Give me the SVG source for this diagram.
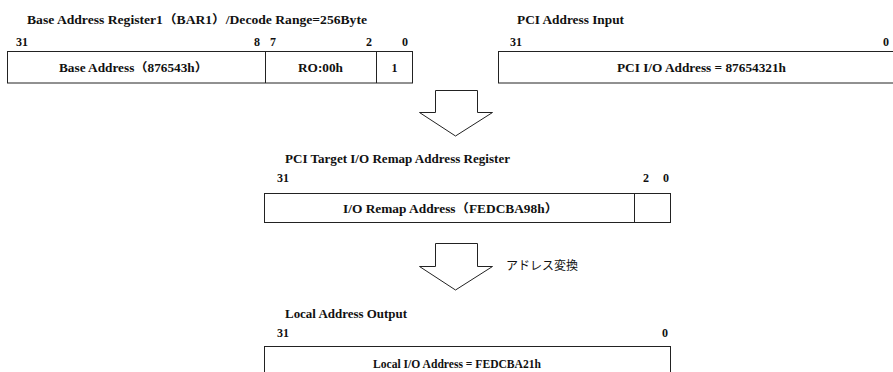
<svg xmlns="http://www.w3.org/2000/svg" width="893" height="372" viewBox="0 0 893 372">
<style>
.t{font-family:"Liberation Serif","Noto Sans CJK JP",serif;font-weight:bold;font-size:12px;fill:#111}
.m{text-anchor:middle}
.j{font-family:"Noto Sans CJK JP","Noto Sans",sans-serif;font-size:12px;fill:#111}
.b{fill:#fff;stroke:#222;stroke-width:1}
.l{stroke:#222;stroke-width:1;fill:none}
</style>
<rect width="893" height="372" fill="#fff"/>
<g id="bar1">
<text class="t" x="27" y="24" textLength="340" lengthAdjust="spacingAndGlyphs">Base Address Register1（BAR1）/Decode Range=256Byte</text>
<text class="t" x="16" y="46">31</text>
<text class="t" x="254" y="46">8</text>
<text class="t" x="270" y="46">7</text>
<text class="t" x="366" y="46">2</text>
<text class="t" x="402" y="46">0</text>
<rect class="b" x="7.5" y="51.5" width="405" height="31.5"/>
<line class="l" x1="265.5" y1="51.5" x2="265.5" y2="83"/>
<line class="l" x1="376.5" y1="51.5" x2="376.5" y2="83"/>
<text class="t" x="59" y="72" textLength="149" lengthAdjust="spacingAndGlyphs">Base Address（876543h）</text>
<text class="t" x="298" y="72" textLength="45" lengthAdjust="spacingAndGlyphs">RO:00h</text>
<text class="t m" x="394.5" y="72">1</text>
</g>
<g id="pci-input">
<text class="t" x="517" y="24" textLength="107" lengthAdjust="spacingAndGlyphs">PCI Address Input</text>
<text class="t" x="510" y="46">31</text>
<text class="t" x="883" y="46">0</text>
<rect class="b" x="498.5" y="51.5" width="400" height="31.5"/>
<text class="t" x="617" y="72" textLength="169" lengthAdjust="spacingAndGlyphs">PCI I/O Address = 87654321h</text>
</g>
<g id="remap">
<text class="t" x="285" y="163" textLength="225" lengthAdjust="spacingAndGlyphs">PCI Target I/O Remap Address Register</text>
<text class="t" x="277" y="182">31</text>
<text class="t" x="643" y="182">2</text>
<text class="t" x="663" y="182">0</text>
<rect class="b" x="264.5" y="193.5" width="406" height="29"/>
<line class="l" x1="634.5" y1="193.5" x2="634.5" y2="222.5"/>
<text class="t" x="343" y="213" textLength="215" lengthAdjust="spacingAndGlyphs">I/O Remap Address（FEDCBA98h）</text>
</g>
<g id="local-output">
<text class="t" x="285" y="317.5" textLength="122" lengthAdjust="spacingAndGlyphs">Local Address Output</text>
<text class="t" x="277" y="337">31</text>
<text class="t" x="662" y="337">0</text>
<rect class="b" x="264.5" y="346.5" width="406" height="40"/>
<text class="t" x="373" y="367.5" textLength="168" lengthAdjust="spacingAndGlyphs">Local I/O Address = FEDCBA21h</text>
</g>
<g id="connectors">
<polygon class="b" points="435.5,90.5 477.5,90.5 477.5,112.5 492.5,112.5 455.5,136 419.5,112.5 435.5,112.5"/>
<polygon class="b" points="435.5,243.5 477.5,243.5 477.5,266.5 492.5,266.5 455.5,290 419.5,266.5 435.5,266.5"/>
<text class="j" x="506" y="269.5">アドレス変換</text>
</g>
</svg>
